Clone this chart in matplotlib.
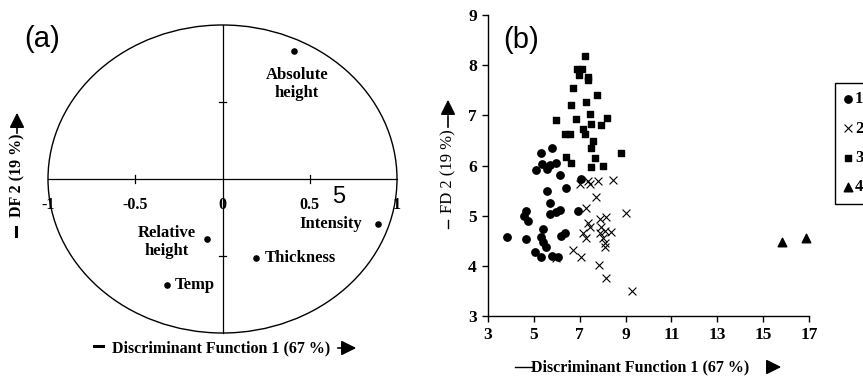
import matplotlib
matplotlib.use("Agg")
import matplotlib.pyplot as plt
from matplotlib.patches import Ellipse

# ---------------- data: panel (a) loadings ----------------
var_names = ["Absolute\nheight", "Intensity", "Relative\nheight", "Thickness", "Temp"]
var_x = [0.41, 0.89, -0.09, 0.19, -0.32]
var_y = [0.83, -0.29, -0.39, -0.51, -0.69]
a_ticks = [-1, -0.5, 0, 0.5, 1]
a_ticklabels = ["-1", "-0.5", "0", "0.5", "1"]

# ---------------- data: panel (b) discriminant scores ----------------
g1_x = [3.84, 4.64, 4.57, 4.74, 4.67, 5.03, 5.32, 5.40, 5.32, 5.40, 5.51, 5.81, 6.06,
        5.30, 5.11, 5.37, 5.57, 5.69, 5.95, 5.79, 6.15, 5.57, 5.72, 5.72, 5.95, 6.12,
        6.39, 6.17, 6.34, 6.92, 7.04]
g1_y = [4.57, 5.10, 5.00, 4.89, 4.53, 4.28, 4.17, 4.73, 4.58, 4.48, 4.38, 4.20, 4.17,
        6.24, 5.92, 6.03, 5.94, 6.01, 6.04, 6.35, 5.81, 5.50, 5.26, 5.03, 5.08, 5.11,
        5.56, 4.59, 4.66, 5.09, 5.74]
g2_x = [7.00, 7.36, 7.43, 7.80, 8.45, 7.72, 7.29, 9.00, 7.87, 8.16, 7.36, 7.46, 7.14,
        7.26, 7.94, 8.09, 8.38, 7.87, 8.01, 8.09, 8.09, 6.71, 7.07, 7.84, 8.13, 9.29, 5.95]
g2_y = [5.64, 5.70, 5.63, 5.70, 5.71, 5.37, 5.15, 5.05, 4.93, 4.98, 4.85, 4.78, 4.65,
        4.55, 4.78, 4.70, 4.68, 4.65, 4.55, 4.46, 4.38, 4.32, 4.18, 4.02, 3.75, 3.50, 4.15]
g3_x = [7.24, 6.90, 7.10, 6.95, 7.35, 7.38, 6.71, 7.77, 7.29, 6.63, 8.19, 7.46, 7.94,
        6.82, 5.95, 7.48, 7.14, 7.22, 6.34, 6.59, 7.58, 7.51, 6.39, 6.63, 8.78, 7.65,
        8.01, 7.51]
g3_y = [8.19, 7.92, 7.92, 7.81, 7.77, 7.70, 7.54, 7.41, 7.27, 7.21, 6.95, 7.03, 6.81,
        6.93, 6.91, 6.82, 6.73, 6.63, 6.62, 6.62, 6.49, 6.34, 6.16, 6.04, 6.24, 6.14,
        6.00, 5.98]
g4_x = [15.82, 16.88]
g4_y = [4.48, 4.55]
group_labels = ["1", "2", "3", "4"]
b_xticks = [3, 5, 7, 9, 11, 13, 15, 17]
b_yticks = [3, 4, 5, 6, 7, 8, 9]

W, H = 863, 383
fig = plt.figure(figsize=(W / 100, H / 100), dpi=100)
fig.patch.set_facecolor("white")
SERIF = ["Liberation Serif", "DejaVu Serif"]
SANS = ["Liberation Sans", "DejaVu Sans"]

def fx(px):
    return px / W

def fy(py):
    return 1 - py / H

ARROW = dict(arrowstyle="-|>,head_length=0.9,head_width=0.45", color="black", lw=1.2)

# ---------------- panel (a) ----------------
axa = fig.add_axes([fx(48), fy(333), (397 - 48) / W, (333 - 25) / H])
axa.set_xlim(-1, 1)
axa.set_ylim(-1, 1)
axa.axis("off")
axa.add_patch(Ellipse((0, 0), 2, 2, fill=False, edgecolor="black", lw=1.0, clip_on=False))
axa.plot([-1, 1], [0, 0], color="black", lw=0.9, clip_on=False)
axa.plot([0, 0], [-1, 1], color="black", lw=0.9, clip_on=False)
for t in [-0.5, 0.5]:
    axa.plot([t, t], [-0.025, 0.025], color="black", lw=0.9)
    axa.plot([-0.02, 0.02], [t, t], color="black", lw=0.9)
for t, lab in zip(a_ticks, a_ticklabels):
    axa.text(t, -0.17, lab, ha="center", va="center", fontsize=11.5,
             fontweight="bold", family=SERIF)
axa.scatter(var_x, var_y, s=14, color="black", zorder=3, clip_on=False)
offsets = [((3, -33), "center"), ((-16, 0), "right"), ((-40, -3), "center"),
           ((9, 0), "left"), ((8, 0), "left")]
for name, x, y, (off, ha) in zip(var_names, var_x, var_y, offsets):
    axa.annotate(name, (x, y), xytext=off, textcoords="offset pixels",
                 ha=ha, va="center", multialignment="center", fontsize=12,
                 fontweight="bold", family=SERIF, linespacing=1.2)
fig.text(fx(339), fy(197), "5", fontsize=17, family=SANS, ha="center", va="center")
fig.text(fx(42), fy(39), "(a)", fontsize=21, family=SANS, ha="center", va="center")

# axis labels of (a)
fig.text(fx(221), fy(348), "Discriminant Function 1 (67 %)", fontsize=11.5,
         fontweight="bold", family=SERIF, ha="center", va="center")
fig.add_artist(plt.Line2D([fx(94), fx(103)], [fy(346), fy(346)], color="black", lw=2.2))
fig.add_artist(plt.Line2D([fx(338), fx(348)], [fy(348), fy(348)], color="black", lw=1.2))
axa.annotate("", xy=(fx(359), fy(348)), xytext=(fx(345), fy(348)),
             xycoords="figure fraction", textcoords="figure fraction", arrowprops=ARROW)
fig.text(fx(17), fy(175), "DF 2 (19 %)", fontsize=11.5, fontweight="bold",
         family=SERIF, ha="center", va="center", rotation=90)
fig.add_artist(plt.Line2D([fx(16), fx(16)], [fy(227), fy(236)], color="black", lw=2.2))
fig.add_artist(plt.Line2D([fx(17), fx(17)], [fy(133), fy(124)], color="black", lw=1.2))
axa.annotate("", xy=(fx(17), fy(110)), xytext=(fx(17), fy(126)),
             xycoords="figure fraction", textcoords="figure fraction", arrowprops=ARROW)

# ---------------- panel (b) ----------------
axb = fig.add_axes([fx(488), fy(316), (809 - 488) / W, (316 - 15) / H])
axb.set_xlim(3, 17)
axb.set_ylim(3, 9)
for sp in ["top", "right"]:
    axb.spines[sp].set_visible(False)
for sp in ["left", "bottom"]:
    axb.spines[sp].set_linewidth(1.0)
axb.set_xticks(b_xticks)
axb.set_yticks(b_yticks)
axb.tick_params(direction="out", length=4, width=1.0, labelsize=12.5)
axb.tick_params(axis="x", pad=4)
axb.tick_params(axis="y", pad=4)
for lab in axb.get_xticklabels() + axb.get_yticklabels():
    lab.set_fontweight("bold")
    lab.set_family(SERIF)

h1 = axb.scatter(g1_x, g1_y, marker="o", s=28, color="black", zorder=3, clip_on=False)
h2 = axb.scatter(g2_x, g2_y, marker="x", s=32, color="black", linewidths=0.8, zorder=3, clip_on=False)
h3 = axb.scatter(g3_x, g3_y, marker="s", s=22, color="black", zorder=3, clip_on=False)
h4 = axb.scatter(g4_x, g4_y, marker="^", s=38, color="black", zorder=3, clip_on=False)

leg = fig.legend([h1, h2, h3, h4], group_labels, loc="upper left",
                 bbox_to_anchor=(fx(835), fy(83)), frameon=True, fancybox=False,
                 edgecolor="black", framealpha=1, handlelength=0.5, handletextpad=0.2,
                 labelspacing=0.8, borderpad=0.5, borderaxespad=0,
                 prop=dict(family=SERIF, weight="bold", size=12))
leg.get_frame().set_linewidth(1.0)

fig.text(fx(521), fy(40), "(b)", fontsize=21, family=SANS, ha="center", va="center")

fig.text(fx(640), fy(367), "Discriminant Function 1 (67 %)", fontsize=11.5,
         fontweight="bold", family=SERIF, ha="center", va="center")
fig.add_artist(plt.Line2D([fx(515), fx(532)], [fy(367), fy(367)], color="black", lw=1.0))
fig.add_artist(plt.Line2D([fx(768), fx(774)], [fy(367), fy(367)], color="black", lw=1.2))
axb.annotate("", xy=(fx(784), fy(367)), xytext=(fx(771), fy(367)),
             xycoords="figure fraction", textcoords="figure fraction", arrowprops=ARROW)
fig.text(fx(448), fy(171), "FD 2 (19 %)", fontsize=12, family=SERIF,
         ha="center", va="center", rotation=90)
fig.add_artist(plt.Line2D([fx(448), fx(448)], [fy(220), fy(228)], color="black", lw=1.0))
fig.add_artist(plt.Line2D([fx(448), fx(448)], [fy(127), fy(116)], color="black", lw=1.2))
axb.annotate("", xy=(fx(448), fy(97)), xytext=(fx(448), fy(116)),
             xycoords="figure fraction", textcoords="figure fraction", arrowprops=ARROW)

fig.savefig("out.png", dpi=100)
